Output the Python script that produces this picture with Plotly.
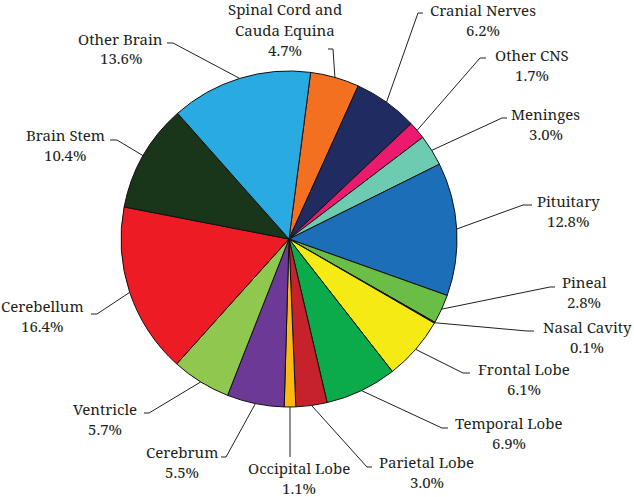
import math
import plotly.graph_objects as go

# ---- data -------------------------------------------------------------
sites = [
    "Spinal Cord and<br>Cauda Equina", "Cranial Nerves", "Other CNS", "Meninges",
    "Pituitary", "Pineal", "Nasal Cavity", "Frontal Lobe", "Temporal Lobe",
    "Parietal Lobe", "Occipital Lobe", "Cerebrum", "Ventricle", "Cerebellum",
    "Brain Stem", "Other Brain",
]
shares = [4.7, 6.2, 1.7, 3.0, 12.8, 2.8, 0.1, 6.1, 6.9,
          3.0, 1.1, 5.5, 5.7, 16.4, 10.4, 13.6]
colors = [
    "#F37021", "#1F2B61", "#EC1A6E", "#6CCBB0", "#1B6EB7", "#6ABD45", "#231F20",
    "#F5EA14", "#0BAA4B", "#C5222B", "#FDB913", "#6D3996", "#8FC74F", "#ED1C24",
    "#19351A", "#29ABE2",
]

# ---- layout (page pixels) ---------------------------------------------
W, H = 634, 497
CX, CY, R = 289, 239, 168
START = 7.4       # first slice starts this many degrees clockwise of 12 o'clock
LINE_GAP = 20     # distance between text lines

# text centre x, first line centre y, leader elbow, tick end
label_layout = [
    (285, 9.5, (333, 49), (328, 49)),
    (482.5, 10, (418, 13), (423, 13)),
    (532, 55, (480, 58), (486, 58)),
    (545.5, 114, (502, 118), (507, 118)),
    (568, 201, (523, 205), (532, 205)),
    (584, 282, (550, 287), (555, 287)),
    (587, 327, (527, 331), (534, 331)),
    (524, 369, (463, 373), (470, 373)),
    (509, 423, (442, 428), (448, 428)),
    (426.5, 462, (367, 467), (372, 467)),
    (298.5, 468, (290, 457), (290, 457)),
    (181.5, 452, (226, 457), (221, 457)),
    (104.5, 408.5, (149, 413), (144, 413)),
    (42, 306, (97, 314), (91, 314)),
    (65, 135, (117, 140), (110, 140)),
    (120.5, 38.5, (173, 43), (167, 43)),
]


def fx(x):
    return x / W


def fy(y):
    return 1 - y / H


fig = go.Figure(go.Pie(
    labels=[s.replace("<br>", " ") for s in sites],
    values=shares,
    marker=dict(colors=colors, line=dict(color="#111111", width=1)),
    sort=False,
    direction="clockwise",
    rotation=START,
    textinfo="none",
    hoverinfo="skip",
    showlegend=False,
    domain=dict(x=[fx(CX - R), fx(CX + R)], y=[fy(CY + R), fy(CY - R)]),
))

total = sum(shares)
cum = 0
shapes = []
annotations = []
font = dict(family="Noto Serif", size=15, color="#231F20")
for site, val, (tx, ty, elbow, tick) in zip(sites, shares, label_layout):
    # leader starts on the rim at the slice's middle angle
    ang = math.radians(START + 360 * (cum + val / 2) / total)
    cum += val
    px = CX + R * math.sin(ang)
    py = CY - R * math.cos(ang)
    path = (f"M {fx(px)},{fy(py)} L {fx(elbow[0])},{fy(elbow[1])} "
            f"L {fx(tick[0])},{fy(tick[1])}")
    shapes.append(dict(type="path", xref="paper", yref="paper", path=path,
                       line=dict(color="#231F20", width=1)))
    lines = site.split("<br>") + [f"{val:.1f}%"]
    for k, txt in enumerate(lines):
        annotations.append(dict(
            x=fx(tx), y=fy(ty + k * LINE_GAP), xref="paper", yref="paper",
            text=txt, showarrow=False, xanchor="center", yanchor="middle",
            font=font,
        ))

fig.update_layout(
    width=W, height=H,
    margin=dict(l=0, r=0, t=0, b=0),
    paper_bgcolor="white",
    plot_bgcolor="white",
    shapes=shapes,
    annotations=annotations,
)

fig.write_html("out.html", config={"displayModeBar": False},
               post_script="document.body.style.margin='0';")
